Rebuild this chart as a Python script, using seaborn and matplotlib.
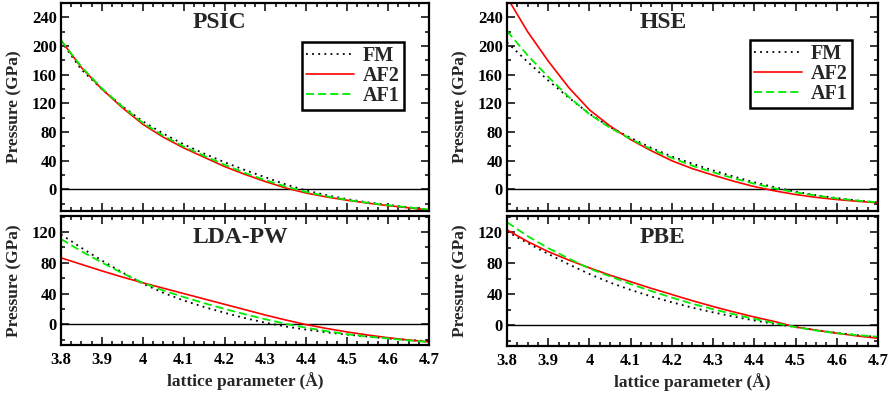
import matplotlib
matplotlib.use("Agg")
import matplotlib.pyplot as plt
import seaborn as sns
import pandas as pd
from matplotlib.ticker import MultipleLocator, FixedLocator, FixedFormatter

# ---------------- data ----------------
lattice = [3.80, 3.85, 3.90, 3.95, 4.00, 4.05, 4.10, 4.15, 4.20, 4.25,
           4.30, 4.35, 4.40, 4.45, 4.50, 4.55, 4.60, 4.65, 4.70]

psic_fm  = [207, 167, 140, 116, 95, 78, 63, 50, 38, 27,
            17, 7, -1.5, -8, -13.5, -18, -21.5, -25, -28]
psic_af2 = [208, 170, 140, 114, 91, 73, 58, 45, 32, 21,
            11, 2, -5, -10.5, -15, -19, -22.5, -25.5, -28.5]
psic_af1 = [208, 171, 141, 115.5, 93, 75, 60, 47, 34.5, 23,
            13, 4, -3.5, -9.5, -14.5, -18.5, -22, -25, -28]

hse_fm  = [205, 178, 152, 128, 105.5, 87, 72, 58, 46, 36,
           26.5, 18, 10, 3, -3, -8, -12, -15.5, -18]
hse_af2 = [268, 220, 179, 142, 111, 88.5, 69.5, 54, 40, 29,
           20, 11.5, 4, -2, -7, -11, -14, -16.5, -18.5]
hse_af1 = [221, 187, 157, 129, 105, 86, 70.5, 56, 44, 33,
           24, 15.5, 8, 1.5, -4, -8.5, -12.5, -15.5, -18]

lda_fm  = [117, 99.5, 83, 67.5, 53, 41, 31, 22.5, 15, 8,
           2, -3, -7, -10.5, -13.5, -16, -18.5, -20.5, -22]
lda_af2 = [86.5, 78, 69.5, 61.5, 54, 47, 40, 33, 26, 19,
           12, 5.5, -0.5, -5.5, -10, -14, -17.5, -20.5, -23]
lda_af1 = [111, 95, 80.5, 66.5, 54, 44, 35.5, 27.5, 20, 13,
           6.5, 0.5, -4.5, -9, -13, -16, -18.5, -21, -23]

pbe_fm  = [121, 106, 92, 78.5, 66, 55, 45.5, 37, 29.5, 22.5,
           16.5, 11, 6, 1.5, -2.5, -6.5, -10, -13, -15.5]
pbe_af2 = [123, 108, 95, 84, 74, 64.5, 56, 47.5, 39.5, 31.5,
           24, 17, 10.5, 4.5, -2.5, -6.5, -10.5, -14, -17]
pbe_af1 = [133, 115, 99.5, 86, 73, 63, 53, 44, 35.5, 27.5,
           20.5, 14, 8, 2.5, -2.5, -7, -10.5, -13, -15]

series_names = ["FM", "AF2", "AF1"]
panel_titles = ["PSIC", "HSE", "LDA-PW", "PBE"]
x_ticks = [3.8, 3.9, 4.0, 4.1, 4.2, 4.3, 4.4, 4.5, 4.6, 4.7]
x_tick_labels = ["3.8", "3.9", "4", "4.1", "4.2", "4.3", "4.4", "4.5", "4.6", "4.7"]
top_y_ticks = [0, 40, 80, 120, 160, 200, 240]
bottom_y_ticks = [0, 40, 80, 120]

# ---------------- style ----------------
sns.set_theme(style="ticks")
plt.rcParams["font.family"] = ["Liberation Serif", "DejaVu Serif"]
plt.rcParams["font.weight"] = "bold"
plt.rcParams["axes.labelweight"] = "bold"

styles = {
    "FM":  dict(color="black", linestyle=(0, (1, 2.4)), linewidth=1.3),
    "AF2": dict(color="#ff0000", linestyle="-", linewidth=1.2),
    "AF1": dict(color="#00ee00", linestyle=(0, (4.5, 2.2)), linewidth=1.3),
}

panels = [
    dict(title=panel_titles[0], data=[psic_fm, psic_af2, psic_af1],
         rect=[61, 3, 368, 208], ylim=(-30, 260), yt=top_y_ticks, bottom=False,
         legend=(0.932, 0.8125)),
    dict(title=panel_titles[1], data=[hse_fm, hse_af2, hse_af1],
         rect=[507, 3, 371, 208], ylim=(-30, 260), yt=top_y_ticks, bottom=False,
         legend=(0.930, 0.822)),
    dict(title=panel_titles[2], data=[lda_fm, lda_af2, lda_af1],
         rect=[61, 216, 368, 129], ylim=(-27, 141), yt=bottom_y_ticks, bottom=True,
         legend=None),
    dict(title=panel_titles[3], data=[pbe_fm, pbe_af2, pbe_af1],
         rect=[507, 216, 371, 130], ylim=(-27, 141), yt=bottom_y_ticks, bottom=True,
         legend=None),
]

W, H = 889, 394
fig = plt.figure(figsize=(W / 100, H / 100), dpi=100)
fig.patch.set_facecolor("white")

for p in panels:
    x0, y0, w, h = p["rect"]
    ax = fig.add_axes([x0 / W, 1 - (y0 + h) / H, w / W, h / H])
    ax.set_facecolor("white")
    for name, vals in zip(series_names, p["data"]):
        df = pd.DataFrame({"a": lattice, "P": vals})
        sns.lineplot(data=df, x="a", y="P", ax=ax, label=name, legend=False,
                     **styles[name])
    ax.axhline(0, color="black", linewidth=1.0, zorder=1)
    ax.set_xlim(3.8, 4.7)
    ax.set_ylim(*p["ylim"])

    ax.xaxis.set_major_locator(FixedLocator(x_ticks))
    ax.xaxis.set_minor_locator(MultipleLocator(0.025))
    ax.yaxis.set_major_locator(FixedLocator(p["yt"]))
    ax.yaxis.set_minor_locator(MultipleLocator(20))
    ax.tick_params(which="both", direction="in", top=True, right=True,
                   width=1.1, colors="black", labelsize=12)
    ax.tick_params(which="major", length=5.5)
    ax.tick_params(which="minor", length=3)
    ax.tick_params(axis="x", pad=5)
    ax.tick_params(axis="y", pad=3)
    for s in ax.spines.values():
        s.set_linewidth(1.6)
        s.set_color("black")

    if p["bottom"]:
        ax.xaxis.set_major_formatter(FixedFormatter(x_tick_labels))
        ax.set_xlabel("lattice parameter (Å)", fontsize=12.5, fontweight="bold")
        ax.xaxis.set_label_coords(0.5, -0.21)
    else:
        ax.tick_params(axis="x", labelbottom=False)
        ax.set_xlabel("")
    for lab in ax.get_xticklabels() + ax.get_yticklabels():
        lab.set_fontweight("bold")

    ax.set_ylabel("Pressure (GPa)", fontsize=12.5, fontweight="bold")
    ax.yaxis.set_label_coords(-0.105, 0.5)

    ty = 0.905 if not p["bottom"] else 0.835
    ax.text(0.358, ty, p["title"], transform=ax.transAxes, ha="left",
            va="center", fontsize=17, fontweight="bold")

    if p["legend"] is not None:
        leg = ax.legend(loc="upper right", bbox_to_anchor=p["legend"],
                        fontsize=14.5, frameon=True, fancybox=False,
                        framealpha=1, edgecolor="black", borderpad=0.2,
                        labelspacing=0.0, handlelength=2.4,
                        handletextpad=0.45, borderaxespad=0)
        leg.get_frame().set_linewidth(1.8)
        for t in leg.get_texts():
            t.set_fontweight("bold")

fig.savefig("out.png", dpi=100, facecolor="white")
